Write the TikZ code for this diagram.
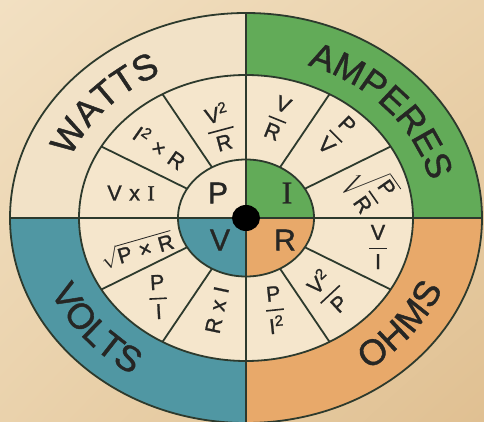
\documentclass[tikz,border=0pt]{standalone}
\usepackage{amsmath}
\usepackage{fontspec}
\setmainfont{Liberation Sans}[UprightFeatures={FakeBold=1.2}]
\newfontfamily\serifI{Liberation Serif}[UprightFeatures={FakeBold=1.2}]
\usetikzlibrary{decorations.text,calc,shadings}
\definecolor{bgA}{RGB}{242,224,194}
\definecolor{bgM}{RGB}{234,210,172}
\definecolor{bgB}{RGB}{224,192,146}
\definecolor{cream}{RGB}{245,230,204}
\definecolor{wattsc}{RGB}{242,226,199}
\definecolor{ampc}{RGB}{98,171,88}
\definecolor{voltc}{RGB}{80,151,163}
\definecolor{ohmc}{RGB}{232,169,106}
\definecolor{linec}{RGB}{45,58,45}
\definecolor{ink}{RGB}{38,38,36}
\newcommand\lblfont{\fontsize{36}{40}\selectfont\color{ink}}
\newcommand\myfrac[2]{$\genfrac{}{}{1.6pt}{0}{\hbox{\kern1.5pt#1\kern1.5pt}}{\hbox{\kern1.5pt#2\kern1.5pt}}$}
\newcommand\sq{\textsuperscript{2}}
\newcommand\gp{\hspace{0.35em}}
\tikzset{
  ln/.style={draw=linec, line width=1.8pt},
  big/.style={font=\fontsize{30}{32}\selectfont, text=ink, inner sep=0pt},
  fml/.style={font=\fontsize{21.5}{24}\selectfont, text=ink, inner sep=0pt},
  lbl/.style={decorate, decoration={text along path, text align={fit to path}, text={|\lblfont|#1}}}
}
\begin{document}
\begin{tikzpicture}[x=1pt,y=1pt]
\useasboundingbox (0,0) rectangle (484,421);
\shade[upper left=bgA, upper right=bgM, lower left=bgM, lower right=bgB] (0,0) rectangle (484,421);
\coordinate (O) at (246,203);
% outer ring quadrants
\fill[wattsc] (O) -- ++(0,205pt) arc[start angle=90,end angle=180,x radius=236pt,y radius=205pt] -- cycle;
\fill[ampc] (O) -- ++(236pt,0) arc[start angle=0,end angle=90,x radius=236pt,y radius=205pt] -- cycle;
\fill[voltc] (O) -- ++(-236pt,0) arc[start angle=180,end angle=270,x radius=236pt,y radius=205pt] -- cycle;
\fill[ohmc] (O) -- ++(0,-205pt) arc[start angle=270,end angle=360,x radius=236pt,y radius=205pt] -- cycle;
% formula ring
\fill[cream] (O) ellipse[x radius=167pt,y radius=143pt];
% inner quadrants
\fill[cream] (O) -- ++(0,58.5pt) arc[start angle=90,end angle=180,x radius=68pt,y radius=58.5pt] -- cycle;
\fill[ampc] (O) -- ++(68pt,0) arc[start angle=0,end angle=90,x radius=68pt,y radius=58.5pt] -- cycle;
\fill[voltc] (O) -- ++(-68pt,0) arc[start angle=180,end angle=270,x radius=68pt,y radius=58.5pt] -- cycle;
\fill[ohmc] (O) -- ++(0,-58.5pt) arc[start angle=270,end angle=360,x radius=68pt,y radius=58.5pt] -- cycle;
% lines
\draw[ln] (O) ellipse[x radius=236pt,y radius=205pt];
\draw[ln] (O) ellipse[x radius=167pt,y radius=143pt];
\draw[ln] (O) ellipse[x radius=68pt,y radius=58.5pt];
\draw[ln] ($(O)+(-236pt,0)$) -- ($(O)+(236pt,0)$);
\draw[ln] ($(O)+(0,205pt)$) -- ($(O)+(0,-205pt)$);
\foreach \a in {30,60,120,150,210,240,300,330}
  \draw[ln] ($(O)+(\a:68pt and 58.5pt)$) -- ($(O)+(\a:167pt and 143pt)$);
\fill[black] (O) ellipse[x radius=14pt,y radius=13pt];
% ring labels
\path[lbl=WATTS] ($(O)+(158:189pt and 161.5pt)$) arc[start angle=158,end angle=117,x radius=189pt,y radius=161.5pt];
\path[lbl=AMPERES] ($(O)+(71:189pt and 161.5pt)$) arc[start angle=71,end angle=14.5,x radius=189pt,y radius=161.5pt];
\path[lbl=VOLTS] ($(O)+(203.5:213pt and 185.5pt)$) arc[start angle=203.5,end angle=236.5,x radius=213pt,y radius=185.5pt];
\path[lbl=OHMS] ($(O)+(-55:213pt and 185.5pt)$) arc[start angle=-55,end angle=-22.5,x radius=213pt,y radius=185.5pt];
% centre letters
\node[big] (P) at (218,228) {P};
\node[big,font=\fontsize{32}{34}\serifI] (I) at (287,228) {I};
\node[big] (V) at (220,181) {V};
\node[big] (R) at (285,181) {R};
% formulas
\node[fml] (vxi) at (131,228) {V\gp x\gp{\serifI I}};
\node[fml,rotate=-35] (i2r) at (160,274) {I\sq\gp×\gp R};
\node[fml,rotate=15] (v2r) at (220,294) {\myfrac{V\sq}{R}};
\node[fml,rotate=-22] (vr) at (278,303) {\myfrac{V}{R}};
\node[fml,rotate=-45] (pv) at (337,286) {\myfrac{P}{V}};
\node[fml,rotate=-55] (spr) at (370,234) {$\sqrt{\genfrac{}{}{1.6pt}{0}{\hbox{P}}{\hbox{R}}}$};
\node[fml] (vi) at (378,174) {\myfrac{V}{I}};
\node[fml,rotate=43] (v2p) at (328,129) {\myfrac{V\sq}{P}};
\node[fml,rotate=6] (pi2) at (275,111) {\myfrac{P}{I\sq}};
\node[fml,rotate=78] (rxi) at (217,111) {R\gp x\gp I};
\node[fml,rotate=3] (pi) at (158,124) {\myfrac{P}{I}};
\node[fml,rotate=16] (spxr) at (137,171) {$\sqrt{\hbox{P\gp×\gp R}}$};
\end{tikzpicture}
\end{document}
